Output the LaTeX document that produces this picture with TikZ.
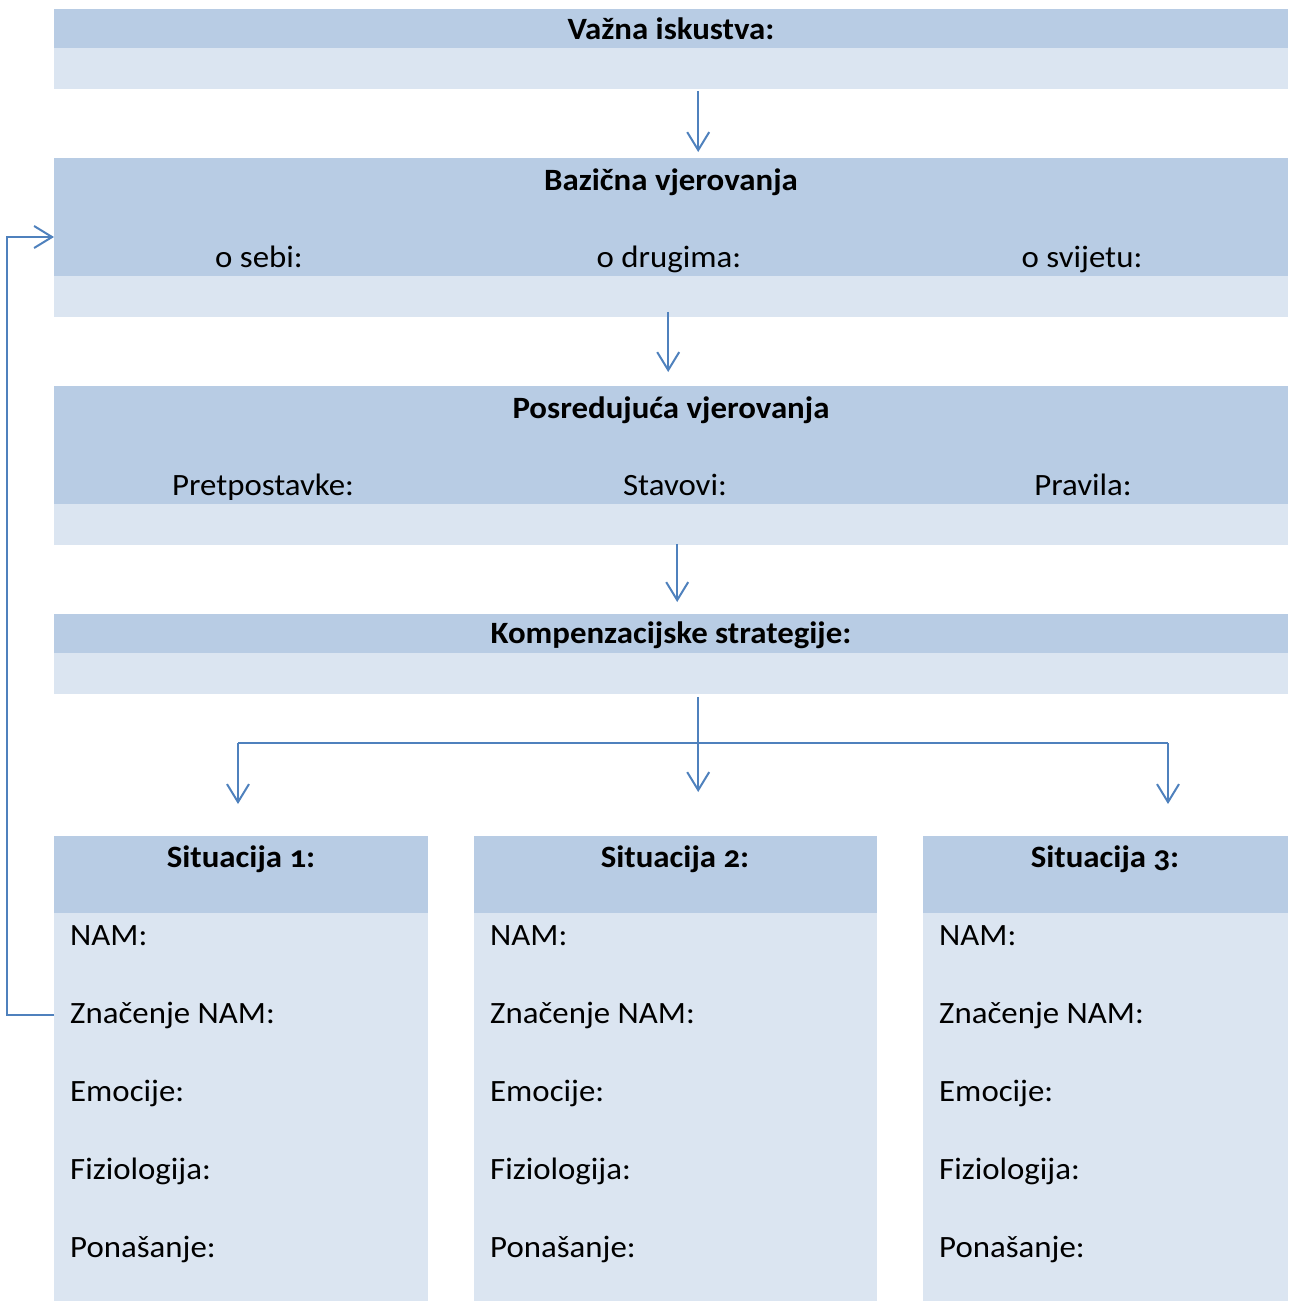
\documentclass[tikz,border=0pt]{standalone}
\usepackage{fontspec}
\setmainfont{Carlito}[Numbers=OldStyle, FakeStretch=1.06]
\usetikzlibrary{arrows.meta,positioning}
\definecolor{hdrblue}{HTML}{B8CCE4}
\definecolor{bodyblue}{HTML}{DBE5F1}
\definecolor{lineblue}{HTML}{4F81BD}
\tikzstyle{band} = [rectangle, inner sep=0pt, anchor=north west, minimum width=1234pt]
\tikzstyle{hdr} = [band, fill=hdrblue]
\tikzstyle{body} = [band, fill=bodyblue, minimum height=41pt, yshift=1pt]
\tikzstyle{head} = [anchor=base, inner sep=0pt, font=\fontsize{31}{36}\selectfont\bfseries]
\tikzstyle{sub} = [anchor=base, inner sep=0pt, font=\fontsize{31}{36}\selectfont]
\tikzstyle{item} = [anchor=base west, inner sep=0pt, font=\fontsize{31}{36}\selectfont]
\tikzstyle{sitbox} = [rectangle, inner sep=0pt, anchor=north west]
\tikzstyle{line} = [draw=lineblue, line width=2pt]
\tikzstyle{flow} = [line, -{Straight Barb[length=18pt,width=22pt,line width=2pt]}]

\begin{document}
\begin{tikzpicture}[x=1pt, y=-1pt]
\useasboundingbox (0,0) rectangle (1288,1301);

% Vazna iskustva
\node [hdr, minimum height=39pt] (imp) at (54,9) {};
\node [body] (impb) at (imp.south west) {};
\node [head] (impt) at (671,39) {Važna iskustva:};

% Bazicna vjerovanja
\node [hdr, minimum height=118pt] (bas) at (54,158) {};
\node [body] (basb) at (bas.south west) {};
\node [head] (bast) at (671,190) {Bazična vjerovanja};
\node [sub] (bas1) at (259,267) {o sebi:};
\node [sub] (bas2) at (669,267) {o drugima:};
\node [sub] (bas3) at (1082,267) {o svijetu:};

% Posredujuca vjerovanja
\node [hdr, minimum height=118pt] (pos) at (54,386) {};
\node [body] (posb) at (pos.south west) {};
\node [head] (post) at (671,418) {Posredujuća vjerovanja};
\node [sub] (pos1) at (263,495) {Pretpostavke:};
\node [sub] (pos2) at (675,495) {Stavovi:};
\node [sub] (pos3) at (1083,495) {Pravila:};

% Kompenzacijske strategije
\node [hdr, minimum height=39pt] (komp) at (54,614) {};
\node [body] (kompb) at (komp.south west) {};
\node [head] (kompt) at (671,643) {Kompenzacijske strategije:};

% Situacije
\foreach \s/\xl/\w/\xc in {1/54/374/241, 2/474/403/675, 3/923/365/1105} {
  \node [sitbox, fill=hdrblue, minimum width=\w pt, minimum height=77pt] (sit\s) at (\xl,836) {};
  \node [sitbox, fill=bodyblue, minimum width=\w pt, minimum height=389pt, yshift=1pt] (sit\s b) at (sit\s.south west) {};
  \node [head] (sit\s t) at (\xc,867) {Situacija \s:};
  \foreach \lbl [count=\i] in {NAM:, Značenje NAM:, Emocije:, Fiziologija:, Ponašanje:}
    \node [item] (sit\s-\i) at (\xl+16,945+78*\i-78) {\lbl};
}

% strelice
\path [flow, shorten <=2pt, shorten >=6pt] ([xshift=27pt]impb.south) to ([xshift=27pt]bas.north);
\path [flow, shorten <=-5pt, shorten >=14pt] ([xshift=-3pt]basb.south) to ([xshift=-3pt]pos.north);
\path [flow, shorten <=-1pt, shorten >=12pt] ([xshift=6pt]posb.south) to ([xshift=6pt]komp.north);

\coordinate (forkL) at (238,743);
\coordinate (forkR) at (1168,743);
\path [line] (forkL) to (forkR);
\path [flow, shorten <=3pt, shorten >=44pt] ([xshift=27pt]kompb.south) to ([xshift=27pt]kompb.south |- sit2.north);
\path [flow, shorten >=32pt] (forkL) to (forkL |- sit1.north);
\path [flow, shorten >=32pt] (forkR) to (forkR |- sit3.north);

% povratna veza
\coordinate (loop) at (7,237);
\path [flow] (sit1b.west |- sit1-2) -| (loop) to (loop -| bas.west);

\end{tikzpicture}
\end{document}
